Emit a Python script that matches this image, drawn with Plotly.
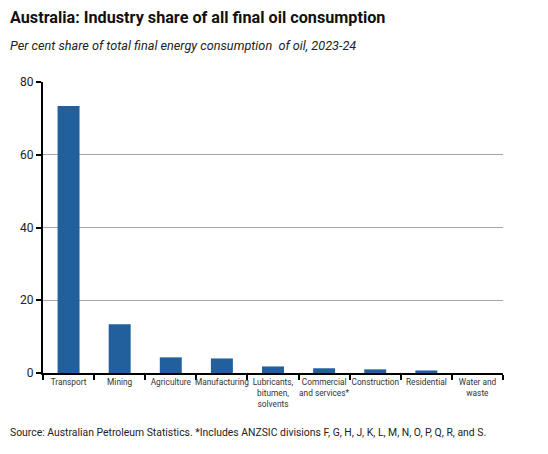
import plotly.graph_objects as go

# Industry categories and their share of final oil consumption (per cent)
industries = ["Transport", "Mining", "Agriculture", "Manufacturing",
              "Lubricants,<br>bitumen,<br>solvents", "Commercial<br>and services*",
              "Construction", "Residential", "Water and<br>waste"]
share = [73.4, 13.4, 4.3, 4.0, 1.8, 1.3, 1.0, 0.7, 0.0]

y_ticks = [0, 20, 40, 60, 80]

fig = go.Figure()

fig.add_trace(go.Bar(
    x=industries,
    y=share,
    marker=dict(color="#22609c", line=dict(width=0)),
    width=0.43,
))

# page has an 8px body margin, so the figure is a bit smaller than the window
fig.update_layout(
    width=540,
    height=446,
    margin=dict(l=32, r=45, t=74, b=81),
    plot_bgcolor="white",
    paper_bgcolor="white",
    showlegend=False,
    font=dict(family="Roboto", color="#222222"),
)

# title and subtitle
fig.add_annotation(text="<b>Australia: Industry share of all final oil consumption</b>",
                   xref="paper", yref="paper", x=-0.077, y=1.22,
                   xanchor="left", yanchor="middle", showarrow=False,
                   font=dict(size=16.2, color="#111111"))
fig.add_annotation(text="<i>Per cent share of total final energy consumption  of oil, 2023-24</i>",
                   xref="paper", yref="paper", x=-0.077, y=1.127,
                   xanchor="left", yanchor="middle", showarrow=False,
                   font=dict(size=12.7, color="#222222"))
# source note
fig.add_annotation(text="Source: Australian Petroleum Statistics. *Includes ANZSIC divisions F, G, H, J, K, L, M, N, O, P, Q, R, and S.",
                   xref="paper", yref="paper", x=-0.077, y=-0.203,
                   xanchor="left", yanchor="middle", showarrow=False,
                   font=dict(size=10.4, color="#222222"))

fig.update_xaxes(
    showline=True, linecolor="black", linewidth=2,
    ticks="outside", tickson="boundaries", ticklen=5, tickcolor="black", tickwidth=1.5,
    tickfont=dict(size=8.3, color="#333333"), tickangle=0,
    showgrid=False,
)
fig.update_yaxes(
    range=[0, 80], tickvals=y_ticks,
    showline=True, linecolor="black", linewidth=2,
    ticks="outside", ticklen=5, tickcolor="black", tickwidth=1.5,
    showgrid=True, gridcolor="#a6a6a6", gridwidth=1,
    zeroline=False,
    tickfont=dict(size=12, color="#222222"),
)

fig.write_html("out.html")
